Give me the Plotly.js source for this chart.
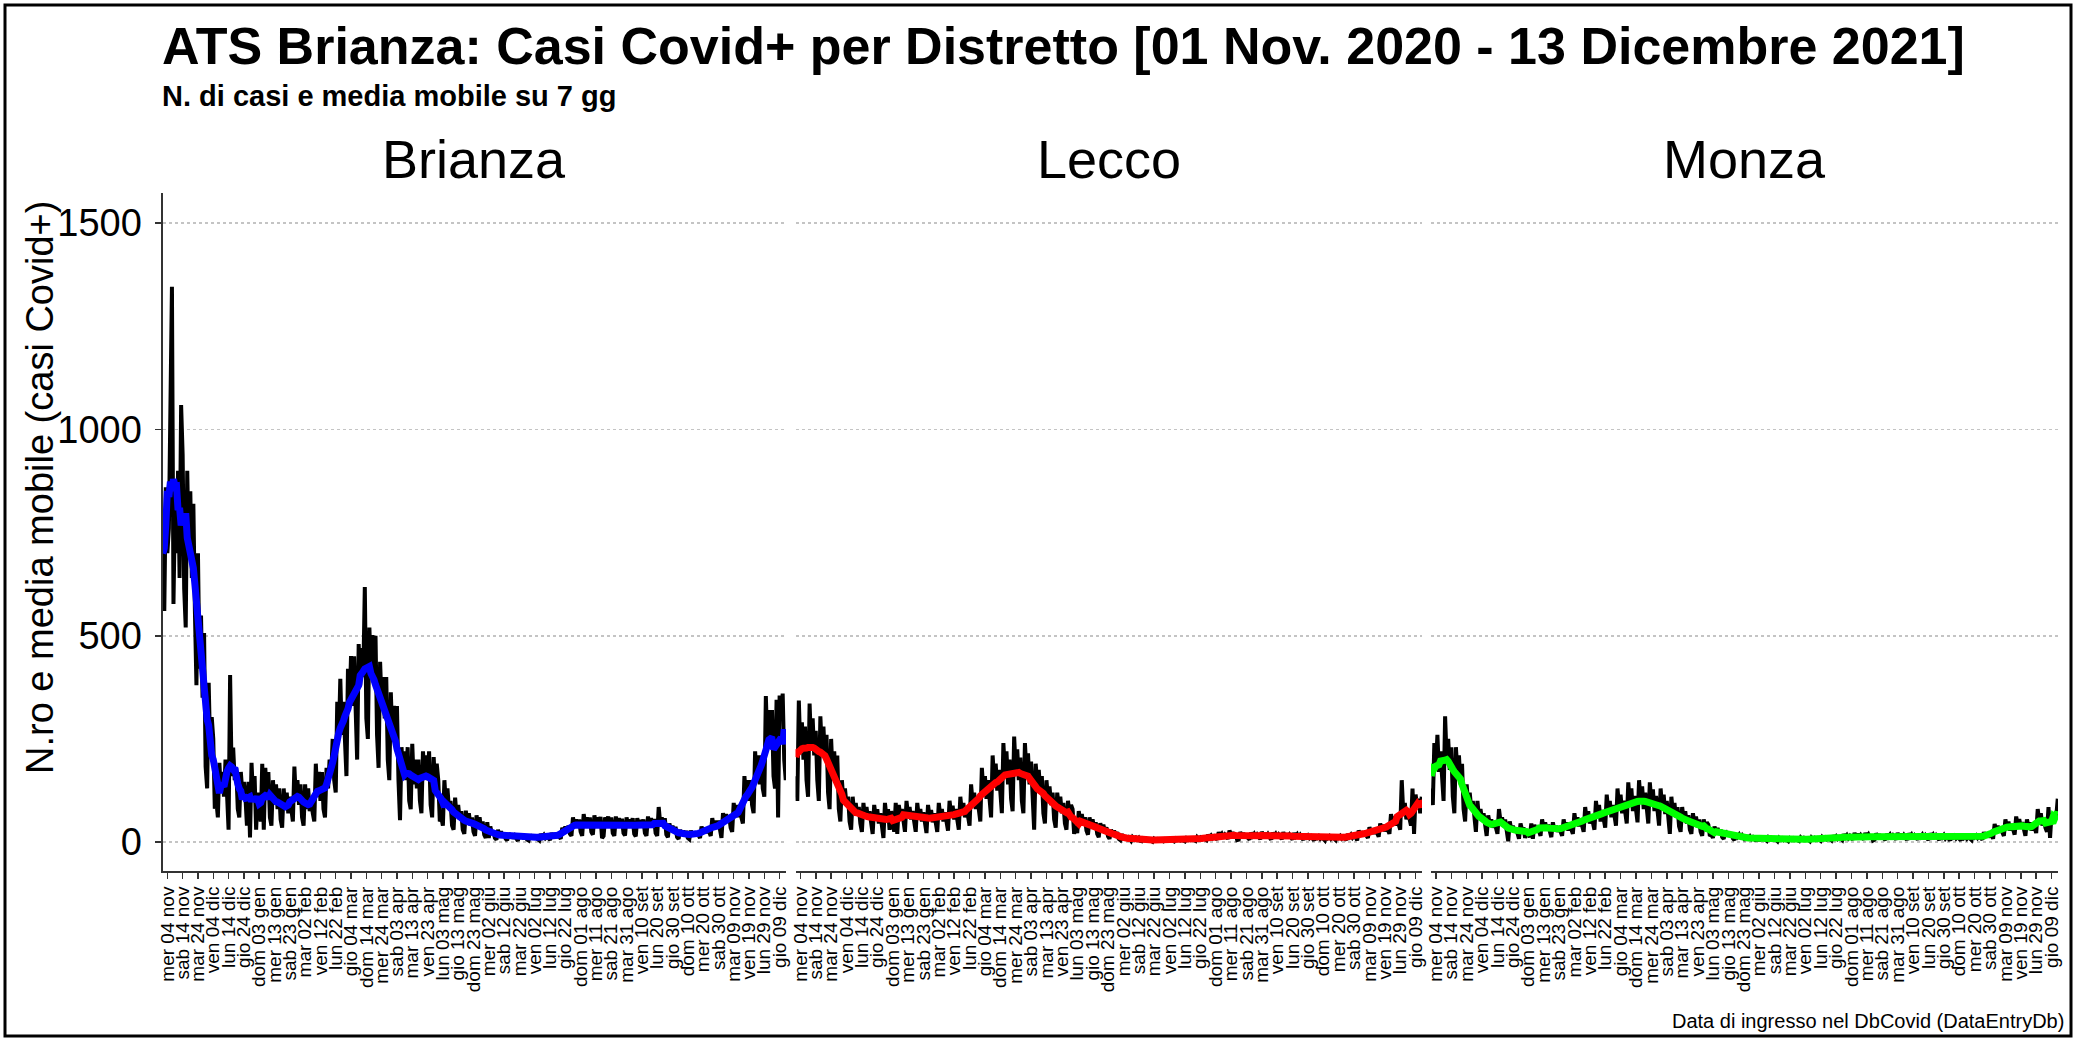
<!DOCTYPE html>
<html><head><meta charset="utf-8">
<script src="https://cdn.plot.ly/plotly-3.0.1.min.js"></script>
<style>html,body{margin:0;padding:0;background:#fff;}#chart{width:2080px;height:1039px;}</style>
</head><body><div id="chart"></div>
<script>
// Daily series start on 01 Nov 2020, one value per day up to 13 Dec 2021
const startDate = '2020-11-01';

const brianza = [
679,560,860,700,760,1054,1346,
577,820,700,900,640,1059,938,
614,520,900,700,850,640,820,
560,380,700,420,549,350,507,
183,130,386,220,303,250,81,
100,60,192,120,170,110,200,
120,30,405,160,229,150,180,
81,60,170,120,146,110,40,
146,11,192,110,160,30,120,
70,50,190,30,180,110,170,
60,40,150,90,140,80,130,
55,35,130,80,120,70,110,
70,50,183,100,150,90,140,
60,40,140,80,130,75,100,
70,50,190,110,170,100,170,
80,60,180,130,200,160,250,
150,120,340,250,396,260,340,
230,160,420,330,451,330,450,
280,200,480,380,470,400,618,
300,250,520,400,502,390,500,
260,180,437,330,400,300,400,
200,150,363,250,330,240,330,
150,53,230,160,220,150,230,
100,80,238,140,200,130,200,
100,70,220,160,210,150,220,
90,60,206,130,190,150,50,
60,40,150,90,130,80,100,
40,30,108,60,90,55,75,
30,20,76,45,70,40,60,
25,15,65,38,60,32,50,
18,10,48,10,38,20,27,
10,6,30,15,26,12,22,
8,4,22,12,18,9,15,
6,3,20,10,16,8,14,
6,4,18,10,16,9,15,
7,4,20,12,17,10,14,
8,5,22,14,20,11,17,
12,8,35,25,38,25,40,
20,15,60,40,55,40,55,
25,15,68,45,60,40,60,
25,18,65,42,60,40,61,
10,15,60,45,62,40,60,
22,15,62,40,58,38,57,
22,16,60,42,55,40,58,
20,14,58,40,54,38,55,
22,15,62,42,58,38,56,
22,15,85,45,60,40,58,
18,12,45,28,40,25,37,
12,8,30,18,28,16,27,
10,7,28,16,25,15,24,
14,10,38,22,35,22,34,
20,15,58,35,52,35,52,
28,10,70,50,68,50,65,
35,25,95,65,90,60,90,
60,45,160,110,150,100,150,
90,70,220,150,210,140,210,
130,110,354,230,320,240,320,
160,130,345,60,355,300,360,
200,150
];

const lecco = [
160,100,343,220,290,200,280,
150,110,336,230,300,210,270,
150,100,305,220,280,200,260,
120,80,250,160,220,150,210,
80,50,150,100,130,90,110,
50,30,110,70,95,65,85,
45,25,95,60,85,55,75,
40,20,90,60,80,45,70,
35,10,95,60,80,30,75,
40,25,95,20,90,65,80,
40,25,100,65,85,55,75,
40,25,95,62,80,50,72,
38,22,90,60,78,48,70,
40,25,95,62,80,50,72,
42,28,100,68,88,55,80,
45,30,110,72,95,60,85,
60,40,140,95,120,80,110,
80,50,180,125,160,105,150,
90,60,210,150,190,125,175,
100,70,240,170,220,140,200,
105,75,256,175,225,150,205,
100,70,240,170,215,140,195,
90,30,190,140,175,120,160,
70,45,150,105,135,90,120,
55,35,120,85,110,70,95,
45,30,100,70,90,80,20,
35,22,75,50,68,42,60,
28,18,60,40,55,33,48,
20,12,46,30,42,25,36,
14,8,30,20,28,16,24,
8,5,20,5,15,10,12,
6,3,12,8,11,6,10,
3,2,8,5,7,4,6,
3,1,8,5,7,4,6,
4,2,7,5,7,4,6,
3,2,8,5,7,4,6,
4,2,9,6,8,5,7,
5,3,12,8,11,7,10,
8,5,18,12,16,10,14,
10,6,24,15,20,12,18,
12,8,28,18,24,15,21,
5,6,24,16,22,13,19,
10,6,23,15,20,12,18,
11,7,25,16,22,13,19,
10,6,23,15,20,12,18,
10,7,24,15,21,12,18,
9,6,22,14,19,11,17,
8,5,18,12,16,10,14,
7,4,15,10,14,8,12,
7,4,16,10,14,8,12,
7,5,17,11,15,9,13,
8,5,20,13,18,11,16,
12,4,28,19,26,16,23,
16,10,36,25,33,20,30,
20,13,45,32,42,26,38,
30,20,68,48,62,40,56,
45,30,150,70,95,55,75,
55,40,130,20,115,90,105,
70,110
];

const monza = [
130,90,240,180,260,170,220,
140,100,305,200,250,175,230,
110,70,230,170,210,140,190,
80,50,140,90,120,80,100,
45,25,100,60,80,55,70,
30,15,65,45,55,35,50,
35,20,80,50,60,40,55,
22,2,50,30,40,25,35,
18,8,45,30,35,10,28,
20,12,45,8,42,30,38,
25,15,55,35,48,30,42,
22,12,48,30,40,25,36,
25,15,55,35,48,28,42,
30,20,70,45,60,38,55,
38,25,85,55,75,45,65,
45,30,100,65,90,50,78,
50,35,115,75,100,60,90,
60,40,130,85,115,70,100,
65,45,145,95,130,75,112,
70,48,150,100,135,80,120,
65,45,145,95,128,75,112,
60,40,130,85,115,68,100,
50,20,110,70,95,60,85,
38,25,85,55,75,45,65,
30,20,70,45,62,36,55,
25,15,55,35,48,42,15,
18,10,38,25,34,20,30,
12,8,28,18,25,14,22,
9,5,20,13,18,10,16,
7,4,16,10,14,8,12,
5,3,13,3,10,7,9,
5,3,11,7,10,6,9,
4,2,10,6,9,5,8,
4,2,9,6,9,5,7,
5,3,11,7,10,6,8,
5,2,11,7,10,6,9,
5,3,12,8,11,7,10,
7,4,16,10,14,8,12,
8,5,19,12,17,10,15,
9,6,22,14,20,11,17,
10,6,22,14,19,11,17,
4,6,21,13,19,10,16,
9,5,20,13,18,10,16,
9,6,22,14,20,11,17,
9,5,21,13,18,10,16,
9,6,20,13,18,10,16,
8,5,21,13,18,10,16,
8,5,19,12,17,9,14,
7,4,17,11,15,9,13,
7,4,16,10,14,8,12,
8,5,19,12,16,10,14,
10,6,24,15,21,12,18,
18,8,44,30,40,24,35,
24,15,55,36,50,28,44,
28,18,62,42,56,34,48,
25,15,55,36,48,28,42,
35,22,80,50,70,40,60,
35,25,85,10,70,45,55,
60,105
];

const tickDates = ['2020-11-04','2020-11-14','2020-11-24','2020-12-04','2020-12-14','2020-12-24',
'2021-01-03','2021-01-13','2021-01-23','2021-02-02','2021-02-12','2021-02-22','2021-03-04','2021-03-14',
'2021-03-24','2021-04-03','2021-04-13','2021-04-23','2021-05-03','2021-05-13','2021-05-23','2021-06-02',
'2021-06-12','2021-06-22','2021-07-02','2021-07-12','2021-07-22','2021-08-01','2021-08-11','2021-08-21',
'2021-08-31','2021-09-10','2021-09-20','2021-09-30','2021-10-10','2021-10-20','2021-10-30','2021-11-09',
'2021-11-19','2021-11-29','2021-12-09'];
const tickLabels = ['mer 04 nov','sab 14 nov','mar 24 nov','ven 04 dic','lun 14 dic','gio 24 dic',
'dom 03 gen','mer 13 gen','sab 23 gen','mar 02 feb','ven 12 feb','lun 22 feb','gio 04 mar','dom 14 mar',
'mer 24 mar','sab 03 apr','mar 13 apr','ven 23 apr','lun 03 mag','gio 13 mag','dom 23 mag','mer 02 giu',
'sab 12 giu','mar 22 giu','ven 02 lug','lun 12 lug','gio 22 lug','dom 01 ago','mer 11 ago','sab 21 ago',
'mar 31 ago','ven 10 set','lun 20 set','gio 30 set','dom 10 ott','mer 20 ott','sab 30 ott','mar 09 nov',
'ven 19 nov','lun 29 nov','gio 09 dic'];
const yTicks = [0, 500, 1000, 1500];

const districts = ['Brianza', 'Lecco', 'Monza'];
const series = [brianza, lecco, monza];
const maColors = ['#0000FF', '#FF0000', '#00FF00'];

function dayList(n) {
  const out = [];
  const d0 = new Date(startDate + 'T00:00:00Z');
  for (let i = 0; i < n; i++) {
    const d = new Date(d0.getTime() + i * 86400000);
    out.push(d.toISOString().slice(0, 10));
  }
  return out;
}
// 7-day moving average (centred, partial windows at the ends)
function movingAvg(v) {
  return v.map((_, i) => {
    let s = 0, c = 0;
    for (let k = i - 3; k <= i + 3; k++) if (k >= 0 && k < v.length) { s += v[k]; c++; }
    return s / c;
  });
}

const W = 2080, H = 1039;
const px = x => x / W, py = y => 1 - y / H;
const panelPx = [[162.5, 786], [795.5, 1422], [1431, 2058]];
const plotTop = 193, plotBottom = 871;
const FONT = 'Liberation Sans, Arial, sans-serif';

const traces = [];
const layout = {
  width: W, height: H,
  margin: {l: 0, r: 0, t: 0, b: 0},
  paper_bgcolor: '#fff', plot_bgcolor: '#fff',
  showlegend: false,
  font: {family: FONT, color: '#000'},
  annotations: [], shapes: []
};

series.forEach((vals, i) => {
  const x = dayList(vals.length);
  const xa = i === 0 ? 'x' : 'x' + (i + 1);
  const ya = i === 0 ? 'y' : 'y' + (i + 1);
  traces.push({x, y: vals, type: 'scatter', mode: 'lines', xaxis: xa, yaxis: ya,
    line: {color: '#000', width: 4}, hoverinfo: 'skip'});
  traces.push({x, y: movingAvg(vals), type: 'scatter', mode: 'lines', xaxis: xa, yaxis: ya,
    line: {color: maColors[i], width: 7}, hoverinfo: 'skip'});

  const xk = i === 0 ? 'xaxis' : 'xaxis' + (i + 1);
  const yk = i === 0 ? 'yaxis' : 'yaxis' + (i + 1);
  layout[xk] = {
    domain: [px(panelPx[i][0]), px(panelPx[i][1])],
    anchor: ya, type: 'date',
    range: ['2020-10-31 20:00', '2021-12-13 04:00'],
    tickmode: 'array', tickvals: tickDates, ticktext: tickLabels,
    tickangle: -90, ticks: 'outside', ticklen: 6, tickwidth: 1.5, tickcolor: '#333',
    tickfont: {family: FONT, size: 19, color: '#000'},
    showline: true, linecolor: '#333', linewidth: 2,
    showgrid: false, zeroline: false, fixedrange: true
  };
  layout[yk] = {
    domain: [py(plotBottom), py(plotTop)],
    anchor: xa, range: [-70, 1573],
    tickmode: 'array', tickvals: yTicks, ticktext: yTicks.map(String),
    showgrid: true, gridcolor: '#c4c4c4', gridwidth: 1.5, griddash: 'dot',
    zeroline: false, fixedrange: true,
    showline: i === 0, linecolor: '#333', linewidth: 2,
    ticks: i === 0 ? 'outside' : '', ticklen: 6, tickwidth: 1.5, tickcolor: '#333',
    showticklabels: i === 0, ticklabelstandoff: 5,
    tickfont: {family: FONT, size: 38, color: '#000'}
  };
  layout.annotations.push({
    text: districts[i], xref: 'paper', yref: 'paper',
    x: px((panelPx[i][0] + panelPx[i][1]) / 2), y: py(159),
    xanchor: 'center', yanchor: 'middle', showarrow: false,
    font: {family: FONT, size: 54, color: '#000'}
  });
});

layout.annotations.push(
  {text: '<b>ATS Brianza: Casi Covid+ per Distretto [01 Nov. 2020 - 13 Dicembre 2021]</b>',
   xref: 'paper', yref: 'paper', x: px(160), y: py(46), xanchor: 'left', yanchor: 'middle',
   showarrow: false, font: {family: FONT, size: 52, color: '#000'}},
  {text: '<b>N. di casi e media mobile su 7 gg</b>',
   xref: 'paper', yref: 'paper', x: px(160), y: py(96), xanchor: 'left', yanchor: 'middle',
   showarrow: false, font: {family: FONT, size: 29, color: '#000'}},
  {text: 'N.ro e media mobile (casi Covid+)', textangle: -90,
   xref: 'paper', yref: 'paper', x: px(40), y: py(488), xanchor: 'center', yanchor: 'middle',
   showarrow: false, font: {family: FONT, size: 38, color: '#000'}},
  {text: 'Data di ingresso nel DbCovid (DataEntryDb)',
   xref: 'paper', yref: 'paper', x: px(2066), y: py(1021), xanchor: 'right', yanchor: 'middle',
   showarrow: false, font: {family: FONT, size: 20, color: '#000'}}
);

layout.shapes.push({type: 'rect', xref: 'paper', yref: 'paper',
  x0: px(5), x1: px(2071), y0: py(1036), y1: py(5), line: {color: '#000', width: 3}});

Plotly.newPlot('chart', traces, layout, {staticPlot: true, displayModeBar: false});
</script>
</body></html>
